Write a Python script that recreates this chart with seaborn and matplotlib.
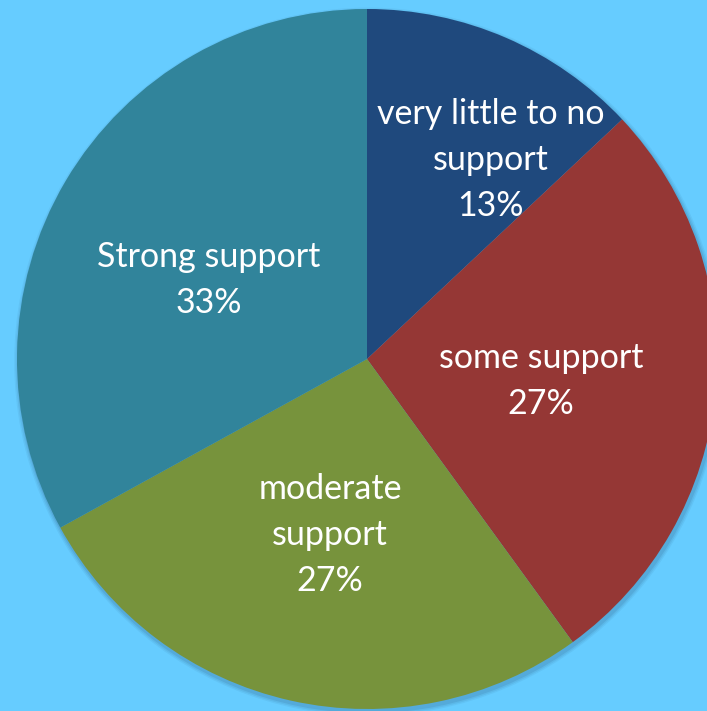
import matplotlib
matplotlib.use("Agg")
import matplotlib.pyplot as plt
from matplotlib.patches import Circle
import seaborn as sns

# Survey answers, clockwise from twelve o'clock
categories = ["very little to no\nsupport", "some support", "moderate\nsupport", "Strong support"]
shares = [13, 27, 27, 33]
colors = ["#1F497D", "#953735", "#77933C", "#31849B"]
# label anchors, in units of the pie radius
label_x = [0.354, 0.497, -0.106, -0.451]
label_y = [0.569, -0.063, -0.503, 0.226]

sns.set_style("white")
plt.rcParams["font.family"] = ["Lato", "DejaVu Sans"]

W, H = 707, 711
cx, cy, r = 367, 359, 350
bg = "#66CCFF"

fig = plt.figure(figsize=(W / 100, H / 100), dpi=100, facecolor=bg)
ax = fig.add_axes([0, 0, 1, 1])
ax.set_facecolor(bg)

# soft drop shadow beneath the pie
for k, a in enumerate([0.10, 0.08, 0.06]):
    ax.add_patch(Circle((0.004, -0.008), 1 + 0.004 * (k + 1), color="#1a3a5a", alpha=a, lw=0, zorder=0))

ax.pie(shares, colors=colors, startangle=90, counterclock=False, radius=1,
       wedgeprops=dict(linewidth=0), frame=True)

for cat, val, x, y in zip(categories, shares, label_x, label_y):
    ax.text(x, y, f"{cat}\n{val}%", ha="center", va="center", color="white",
            fontsize=24.5, linespacing=1.55, zorder=5)

ax.set_xlim(-cx / r, (W - cx) / r)
ax.set_ylim(-(H - cy) / r, cy / r)
ax.set_aspect("auto")
ax.axis("off")

fig.savefig("out.png", dpi=100, facecolor=bg)
